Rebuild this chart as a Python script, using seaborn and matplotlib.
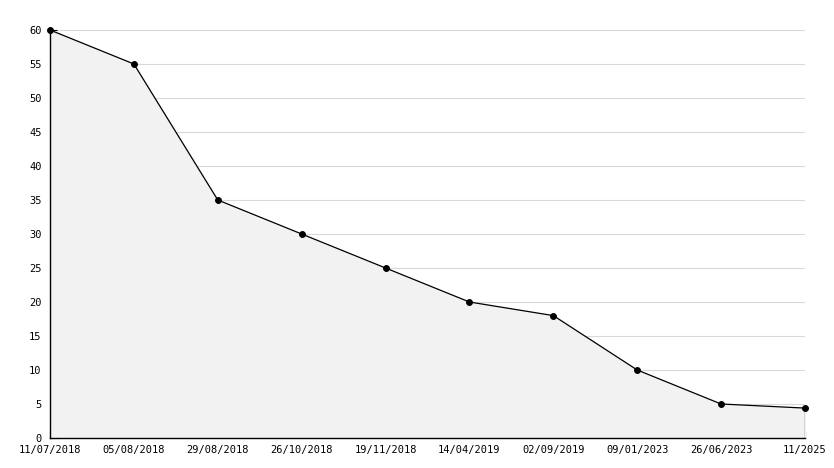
import matplotlib
matplotlib.use("Agg")
import matplotlib.pyplot as plt
import seaborn as sns
import pandas as pd
from matplotlib.ticker import MultipleLocator

dates = ["11/07/2018", "05/08/2018", "29/08/2018", "26/10/2018", "19/11/2018",
         "14/04/2019", "02/09/2019", "09/01/2023", "26/06/2023", "11/2025"]
values = [60, 55, 35, 30, 25, 20, 18, 10, 5, 4.4]

df = pd.DataFrame({"idx": range(len(dates)), "value": values})

sns.set_theme(style="white")
plt.rcParams['font.family'] = ['DejaVu Sans Mono', 'DejaVu Sans']

fig = plt.figure(figsize=(8.34, 4.68), dpi=100)
ax = fig.add_axes([50/834, 30/468, 755/834, 408/468])

ax.fill_between(df["idx"], df["value"], 0, color="#f2f2f2", zorder=1)
sns.lineplot(data=df, x="idx", y="value", ax=ax, color="black", linewidth=0.9,
             marker="o", markersize=4.2, markeredgecolor="black", zorder=3,
             clip_on=False)
ax.vlines(df["idx"].iloc[-1], 0, values[-1], color="black", linewidth=0.9, zorder=3)

ax.set_xlim(0, len(dates) - 1)
ax.set_ylim(0, 60)
ax.set_xticks(range(len(dates)))
ax.set_xticklabels(dates)
ax.yaxis.set_major_locator(MultipleLocator(5))
ax.yaxis.set_minor_locator(MultipleLocator(1))
ax.set_xlabel("")
ax.set_ylabel("")

ax.grid(axis="y", which="major", color="#d9d9d9", linewidth=0.8, zorder=0)
ax.set_axisbelow(True)
for s in ["top", "right"]:
    ax.spines[s].set_visible(False)
for s in ["left", "bottom"]:
    ax.spines[s].set_color("black")
    ax.spines[s].set_linewidth(1)

ax.tick_params(axis="both", which="major", direction="in", length=5, width=0.8,
               colors="black", labelsize=7.5, left=True, bottom=True)
ax.tick_params(axis="y", which="minor", direction="in", length=3, width=0.8,
               colors="black", left=True)
ax.tick_params(axis="x", pad=5)
ax.tick_params(axis="y", pad=6)

fig.savefig("out.png", dpi=100)
